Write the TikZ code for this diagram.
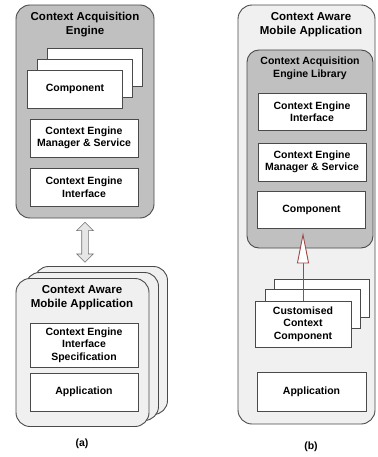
\documentclass[tikz,border=0pt]{standalone}
\usepackage{fontspec}
\setmainfont{Liberation Sans}
\usetikzlibrary{shapes.arrows,arrows.meta,calc}
\definecolor{panelgray}{HTML}{C0C0C0}
\definecolor{panellight}{HTML}{F0F0F0}
\definecolor{edge}{HTML}{4A4A4A}
\definecolor{arrowred}{HTML}{A04848}
\definecolor{arrowfill}{HTML}{E6E6E6}
\definecolor{arrowedge}{HTML}{707070}
\tikzset{
  panel/.style={draw=edge, line width=0.9pt, rounded corners=14pt, inner sep=0pt},
  graypanel/.style={panel, fill=panelgray},
  lightpanel/.style={panel, fill=panellight},
  boxnode/.style={draw=edge, line width=0.9pt, fill=white, inner sep=0pt, align=center,
    font=\bfseries\fontsize{10.5}{12.5}\selectfont},
  titlenode/.style={align=center, inner sep=0pt, font=\bfseries\fontsize{11.5}{14}\selectfont},
  caption/.style={inner sep=0pt, font=\bfseries\fontsize{10.5}{12.5}\selectfont}
}
\begin{document}
\begin{tikzpicture}[x=1pt,y=-1pt]
\useasboundingbox (0,0) rectangle (377,457);
% ---------- (a) top: engine ----------
\node[graypanel, minimum width=138pt, minimum height=213pt] (aeng) at (85,111.5) {};
\node[titlenode] (aengtitle) at (85,24.5) {Context Acquisition\\Engine};
\node[boxnode, minimum width=95pt, minimum height=38pt] (acomp3) at (94.5,67) {};
\node[boxnode, minimum width=95pt, minimum height=38pt] (acomp2) at (84.5,78) {};
\node[boxnode, minimum width=95pt, minimum height=38pt] (acomp1) at (75,89) {Component};
\node[boxnode, minimum width=108pt, minimum height=38pt] (amgr) at (84,138) {Context Engine\\Manager \& Service};
\node[boxnode, minimum width=108pt, minimum height=38pt] (aif) at (84,187) {Context Engine\\Interface};
% ---------- (a) bottom: application stack ----------
\node[lightpanel, minimum width=133pt, minimum height=148pt] (aapp3) at (101,340.5) {};
\node[lightpanel, minimum width=133pt, minimum height=148pt] (aapp2) at (92,346.5) {};
\node[lightpanel, minimum width=133pt, minimum height=148pt] (aapp1) at (82.5,352.5) {};
\node[titlenode] (aapptitle) at (82,298) {Context Aware\\Mobile Application};
\node[boxnode, minimum width=108pt, minimum height=44pt] (aspec) at (84,345) {Context Engine\\Interface\\Specification};
\node[boxnode, minimum width=108pt, minimum height=38pt] (aappl) at (84,392) {Application};
% double arrow
\node[double arrow, rotate=90, draw=arrowedge, fill=arrowfill, line width=0.7pt,
      minimum height=40pt, inner xsep=0pt, inner ysep=3pt,
      double arrow head extend=5pt] (dbl) at ($(aeng.south)!0.5!(aeng.south |- aapp3.north)$) {};
\node[caption] (capa) at (82,444) {(a)};
% ---------- (b) ----------
\node[lightpanel, minimum width=137pt, minimum height=419pt] (bapp) at (306.5,214.5) {};
\node[titlenode] (bapptitle) at (311,24.5) {Context Aware\\Mobile Application};
\node[graypanel, rounded corners=12pt, minimum width=126pt, minimum height=198pt] (blib) at (310,149) {};
\node[titlenode, font=\bfseries\fontsize{10.5}{13}\selectfont] (blibtitle) at (310,68.5) {Context Acquisition\\Engine Library};
\node[boxnode, minimum width=108pt, minimum height=37pt] (bif) at (312,111.5) {Context Engine\\Interface};
\node[boxnode, minimum width=108pt, minimum height=38pt] (bmgr) at (312,162) {Context Engine\\Manager \& Service};
\node[boxnode, minimum width=108pt, minimum height=37pt] (bcomp) at (311.5,209.5) {Component};
\node[boxnode, minimum width=95pt, minimum height=38pt] (bcust3) at (321.5,298) {};
\node[boxnode, minimum width=95pt, minimum height=39pt] (bcust2) at (312.5,308.5) {};
\node[boxnode, minimum width=96pt, minimum height=46pt] (bcust1) at (303,324) {Customised\\Context\\Component};
\node[boxnode, minimum width=109pt, minimum height=39pt] (bappl) at (311.5,391.5) {Application};
\draw[arrowred, line width=0.9pt, shorten >=4pt,
      -{Triangle[length=31pt, width=12pt, fill=white, line width=0.9pt]}]
  (bcust1.north) -- (bcust1.north |- bcomp.south);
\node[caption] (capb) at (311,447) {(b)};
\end{tikzpicture}
\end{document}
